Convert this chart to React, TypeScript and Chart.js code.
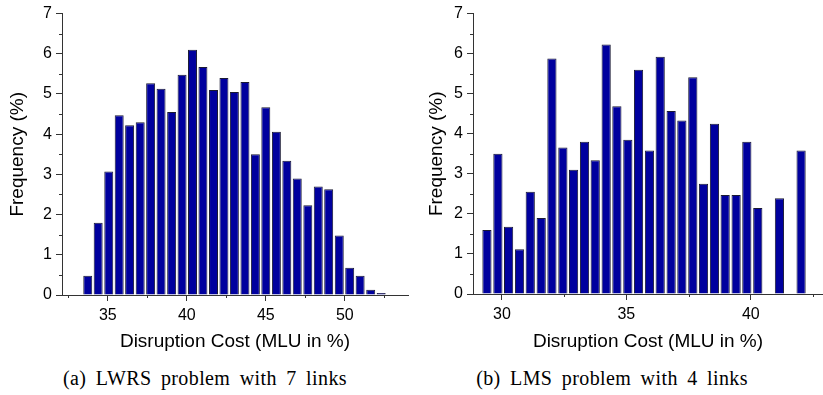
import React, { useEffect, useRef } from 'react';
import { Chart, registerables } from 'chart.js';

Chart.register(...registerables);

// ---- Data ----
const lwrsBins = [33.73, 34.39, 35.06, 35.72, 36.38, 37.05, 37.71, 38.37, 39.04, 39.70, 40.36, 41.02, 41.69, 42.35, 43.01, 43.68, 44.34, 45.00, 45.67, 46.33, 46.99, 47.66, 48.32, 48.98, 49.65, 50.31, 50.97, 51.64, 52.30];
const lwrsFreq = [0.48, 1.8, 3.07, 4.47, 4.22, 4.3, 5.27, 5.13, 4.55, 5.48, 6.1, 5.67, 5.1, 5.4, 5.05, 5.3, 3.5, 4.67, 4.06, 3.34, 2.9, 2.23, 2.7, 2.63, 1.48, 0.68, 0.48, 0.13, 0.05];

const lmsBins = [29.40, 29.84, 30.27, 30.71, 31.14, 31.58, 32.01, 32.45, 32.88, 33.32, 33.75, 34.19, 34.62, 35.06, 35.49, 35.93, 36.36, 36.80, 37.23, 37.67, 38.10, 38.54, 38.97, 39.41, 39.84, 40.28, 40.71, 41.15, 41.58, 42.02];
const lmsFreq = [1.6, 3.5, 1.68, 1.12, 2.55, 1.9, 5.88, 3.66, 3.1, 3.8, 3.34, 6.23, 4.69, 3.85, 5.6, 3.58, 5.92, 4.57, 4.33, 5.41, 2.75, 4.25, 2.47, 2.47, 3.8, 2.15, 0, 2.39, 0, 3.58];

const lwrsXTicks = [35, 40, 45, 50];
const lwrsXMinor = [32.5, 37.5, 42.5, 47.5, 52.5];
const lmsXTicks = [30, 35, 40];
const lmsXMinor = [32.5, 37.5, 42.5];
const yTicks = [0, 1, 2, 3, 4, 5, 6, 7];
const yMinor = [0.5, 1.5, 2.5, 3.5, 4.5, 5.5, 6.5];

const yTitle = 'Frequency (%)';
const xTitle = 'Disruption Cost (MLU in %)';
const captionA = '(a) LWRS problem with 7 links';
const captionB = '(b) LMS problem with 4 links';

const SANS = '"Liberation Sans", Arial, Helvetica, sans-serif';
const AXIS = '#333';

const minorTicksPlugin = {
  id: 'minorTicks',
  afterDraw(chart: any, _args: any, opts: any) {
    const { ctx } = chart;
    const xs = chart.scales.x;
    const ys = chart.scales.y;
    ctx.save();
    ctx.strokeStyle = AXIS;
    ctx.lineWidth = 1;
    ctx.beginPath();
    (opts.x || []).forEach((v: number) => {
      const px = Math.round(xs.getPixelForValue(v)) + 0.5;
      ctx.moveTo(px, xs.top);
      ctx.lineTo(px, xs.top + 3);
    });
    (opts.y || []).forEach((v: number) => {
      const py = Math.round(ys.getPixelForValue(v)) + 0.5;
      ctx.moveTo(ys.right - 3, py);
      ctx.lineTo(ys.right, py);
    });
    ctx.stroke();
    ctx.restore();
  },
};

type HistProps = {
  bins: number[];
  freq: number[];
  xMin: number;
  xMax: number;
  xTicks: number[];
  xMinor: number[];
  left: number;
  width: number;
  height: number;
  yWidth: number;
  xHeight: number;
  padTop: number;
  padRight: number;
  yTitlePad: number;
};

function Hist(p: HistProps) {
  const ref = useRef<HTMLCanvasElement | null>(null);
  useEffect(() => {
    if (!ref.current) return;
    const chart = new Chart(ref.current, {
      type: 'bar',
      data: {
        datasets: [
          {
            data: p.bins.map((b, i) => ({ x: b, y: p.freq[i] })),
            backgroundColor: '#00009E',
            borderColor: '#1a1a33',
            borderWidth: 1,
            barPercentage: 0.86,
            categoryPercentage: 1,
          } as any,
        ],
      },
      options: {
        animation: false,
        responsive: false,
        maintainAspectRatio: false,
        events: [],
        layout: { padding: { top: p.padTop, right: p.padRight, left: 0, bottom: 0 } },
        plugins: {
          legend: { display: false },
          tooltip: { enabled: false },
          minorTicks: { x: p.xMinor, y: yMinor },
        } as any,
        scales: {
          x: {
            type: 'linear',
            min: p.xMin,
            max: p.xMax,
            offset: false,
            afterBuildTicks: (s: any) => {
              s.ticks = p.xTicks.map((v) => ({ value: v }));
            },
            afterFit: (s: any) => {
              s.height = p.xHeight;
            },
            grid: { drawOnChartArea: false, drawTicks: true, tickLength: 6, tickColor: AXIS, offset: false },
            border: { display: true, color: AXIS, width: 1 },
            ticks: { font: { family: SANS, size: 16 }, color: '#000', padding: 5, maxRotation: 0, autoSkip: false, includeBounds: false },
            title: { display: true, text: xTitle, font: { family: SANS, size: 19 }, color: '#000', padding: { top: 0, bottom: 7 } },
          },
          y: {
            min: 0,
            max: 7,
            afterBuildTicks: (s: any) => {
              s.ticks = yTicks.map((v) => ({ value: v }));
            },
            afterFit: (s: any) => {
              s.width = p.yWidth;
            },
            grid: { drawOnChartArea: false, drawTicks: true, tickLength: 6, tickColor: AXIS },
            border: { display: true, color: AXIS, width: 1 },
            ticks: { font: { family: SANS, size: 16 }, color: '#000', padding: 4 },
            title: { display: true, text: yTitle, font: { family: SANS, size: 19 }, color: '#000', padding: { top: p.yTitlePad, bottom: 0 } },
          },
        },
      } as any,
      plugins: [minorTicksPlugin],
    });
    return () => chart.destroy();
  }, []);
  return (
    <canvas
      ref={ref}
      width={p.width}
      height={p.height}
      style={{ position: 'absolute', left: p.left, top: 0, width: p.width, height: p.height }}
    />
  );
}

const captionStyle: React.CSSProperties = {
  position: 'absolute',
  top: 365,
  fontFamily: '"Liberation Serif", "Times New Roman", serif',
  fontSize: 20,
  lineHeight: '26px',
  wordSpacing: 4,
  letterSpacing: 0.4,
  whiteSpace: 'nowrap',
  transform: 'translateX(-50%)',
  color: '#000',
};

export default function App() {
  return (
    <div style={{ position: 'fixed', left: 0, top: 0, width: 823, height: 395, background: '#fff', overflow: 'hidden' }}>
      <Hist
        bins={lwrsBins}
        freq={lwrsFreq}
        xMin={32.1}
        xMax={54.0}
        xTicks={lwrsXTicks}
        xMinor={lwrsXMinor}
        left={0}
        width={415}
        height={360}
        yWidth={62}
        xHeight={65}
        padTop={13}
        padRight={7}
        yTitlePad={6}
      />
      <Hist
        bins={lmsBins}
        freq={lmsFreq}
        xMin={28.84}
        xMax={42.9}
        xTicks={lmsXTicks}
        xMinor={lmsXMinor}
        left={415}
        width={408}
        height={360}
        yWidth={58}
        xHeight={66}
        padTop={11}
        padRight={0}
        yTitlePad={10}
      />
      <div style={{ ...captionStyle, left: 205 }}>{captionA}</div>
      <div style={{ ...captionStyle, left: 612 }}>{captionB}</div>
    </div>
  );
}
